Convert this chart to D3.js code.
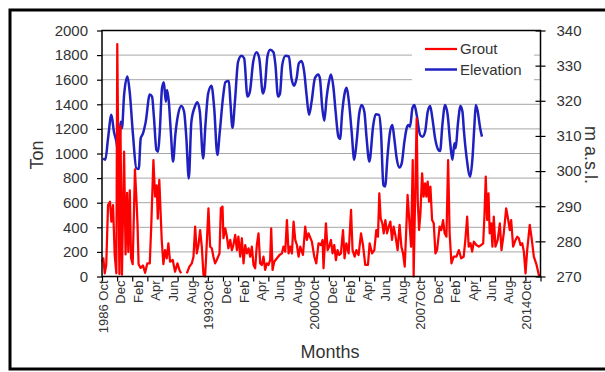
<!DOCTYPE html>
<html>
<head>
<meta charset="utf-8">
<script src="https://cdn.jsdelivr.net/npm/d3@7/dist/d3.min.js"></script>
<style>
  body { margin: 0; background: #fff; }
  text { font-family: "Liberation Sans", Arial, sans-serif; fill: #333; }
</style>
</head>
<body>
<svg id="chart" width="605" height="372"></svg>
<script>
// time in years since Oct 1986 (one axis tick per year)
const groutT = [0.00,0.09,0.18,0.28,0.40,0.53,0.62,0.73,0.84,0.95,1.01,1.15,1.22,1.32,1.46,1.56,1.66,1.74,1.84,1.92,
  2.03,2.18,2.30,2.35,2.42,2.55,2.71,2.85,3.00,3.16,3.26,3.40,3.51,3.62,3.69,3.79,3.95,4.06,4.17,4.28,
  4.39,4.50,4.68,4.83,4.99,5.12,5.23,5.43,5.61,5.78,5.94,6.05,6.16,6.27,6.38,6.49,6.60,6.71,6.82,6.93,
  7.04,7.15,7.26,7.37,7.48,7.59,7.77,7.86,7.97,8.03,8.15,8.26,8.36,8.48,8.59,8.69,8.81,8.92,9.02,9.14,
  9.25,9.36,9.47,9.58,9.69,9.80,9.91,10.02,10.13,10.24,10.35,10.46,10.57,10.68,10.79,10.90,11.01,11.12,11.19,11.28,
  11.39,11.57,11.74,11.90,12.00,12.12,12.23,12.34,12.45,12.56,12.67,12.78,12.89,13.00,13.11,13.29,13.44,13.55,13.66,13.88,
  14.04,14.17,14.32,14.48,14.59,14.65,14.81,14.92,15.03,15.14,15.25,15.36,15.47,15.58,15.69,15.80,15.94,16.04,16.16,16.31,
  16.47,16.57,16.71,16.82,16.97,17.13,17.26,17.41,17.59,17.70,17.86,18.01,18.14,18.25,18.34,18.43,18.54,18.63,18.74,18.85,
  18.96,19.07,19.18,19.29,19.40,19.55,19.68,19.80,19.91,20.02,20.13,20.21,20.35,20.44,20.55,20.61,20.71,20.81,20.88,20.97,
  21.06,21.17,21.27,21.37,21.45,21.54,21.63,21.72,21.83,21.94,22.05,22.16,22.33,22.44,22.56,22.66,22.78,22.89,22.99,23.11,
  23.26,23.44,23.60,23.75,23.92,24.03,24.15,24.25,24.37,24.48,24.59,24.76,24.92,25.08,25.21,25.29,25.38,25.47,25.56,25.64,
  25.74,25.82,25.91,26.02,26.17,26.31,26.42,26.57,26.73,26.83,26.97,27.06,27.19,27.35,27.46,27.56,27.68,27.79,27.90,28.01,
  28.12,28.29,28.40,28.56,28.74,28.89,28.96];
const groutTon = [120,148,26,94,581,608,446,581,175,26,1890,20,1220,15,1015,180,680,200,700,150,
  100,870,570,420,100,70,90,30,107,107,420,947,650,740,470,785,297,100,215,148,
  270,120,134,39,107,53,26,null,26,80,107,161,405,188,256,378,243,12,0,270,
  554,243,229,161,107,134,188,554,568,311,392,324,229,297,215,256,338,215,324,161,
  311,107,256,188,229,161,243,94,67,256,351,107,94,161,53,107,94,134,392,53,
  120,148,175,188,243,202,459,188,243,188,446,297,256,161,243,175,405,297,351,283,
  161,107,270,256,297,67,432,215,243,297,188,256,134,215,175,188,378,148,270,188,
  541,215,161,215,175,351,256,94,94,270,188,215,378,324,676,473,432,351,459,351,
  405,446,297,405,338,215,419,243,188,80,405,663,405,243,947,0,649,1286,622,378,
  514,839,649,758,649,771,608,730,459,432,188,215,405,378,459,351,324,947,351,107,
  161,161,215,148,161,297,486,243,270,202,283,256,243,256,270,486,811,459,676,351,
  432,243,486,243,297,432,215,351,554,486,378,459,243,297,324,311,256,270,202,26,
  215,419,324,161,94,12,0];

const elevT = [0.07,0.22,0.40,0.62,0.79,0.95,1.11,1.24,1.32,1.46,1.68,1.83,2.05,2.27,2.43,2.56,2.71,2.89,3.16,3.31,
  3.44,3.60,3.71,3.82,3.97,4.09,4.22,4.30,4.42,4.55,4.70,4.85,5.03,5.25,5.43,5.58,5.74,5.91,6.14,6.31,
  6.47,6.69,6.84,7.02,7.24,7.42,7.63,7.79,8.01,8.16,8.39,8.49,8.63,8.79,9.00,9.22,9.40,9.62,9.78,10.00,
  10.22,10.40,10.64,10.77,10.94,11.12,11.34,11.47,11.64,11.77,11.92,12.14,12.36,12.53,12.71,12.87,13.02,13.20,13.37,13.53,
  13.69,13.86,14.08,14.30,14.41,14.57,14.70,14.85,15.01,15.14,15.30,15.45,15.63,15.74,15.89,16.07,16.18,16.33,16.51,16.68,
  16.84,17.00,17.17,17.35,17.50,17.68,17.94,18.10,18.32,18.45,18.61,18.72,18.89,19.05,19.20,19.33,19.49,19.67,19.82,20.00,
  20.15,20.26,20.37,20.53,20.66,20.81,21.04,21.19,21.37,21.54,21.70,21.85,22.03,22.25,22.36,22.51,22.69,22.86,23.02,23.17,
  23.31,23.39,23.53,23.71,23.84,23.94,24.12,24.35,24.50,24.63,24.72,24.85,25.01,25.13];
const elevM = [303.6,303.2,309.3,316.0,311.2,308.4,304.1,314.0,312.2,321.6,326.9,322.6,310.3,300.8,300.6,309.3,310.7,314.0,321.8,321.2,
  315.0,306.0,305.5,311.2,323.6,325.3,319.7,323.1,319.7,311.2,302.7,310.3,316.0,318.5,316.9,309.3,297.9,314.0,318.3,319.6,
  316.9,303.6,313.1,322.1,324.3,317.9,304.6,311.2,321.2,325.3,325.6,319.7,312.3,319.7,331.1,332.8,332.1,321.2,322.6,331.1,
  333.8,332.1,322.1,324.0,332.6,334.5,333.8,330.2,321.2,322.0,330.2,332.8,332.6,326.4,324.3,326.4,330.7,331.3,328.3,321.6,
  316.0,319.7,326.4,327.5,326.4,317.9,314.3,320.7,325.4,327.5,324.0,316.9,309.8,309.1,316.9,322.6,323.7,319.7,311.2,303.2,
  308.4,316.0,318.8,316.9,309.3,302.7,313.1,316.2,316.0,311.2,296.0,295.6,304.6,311.2,313.1,309.3,303.6,301.0,302.2,308.4,
  312.2,313.1,312.6,317.9,318.8,316.0,310.3,309.8,311.2,316.9,318.5,315.0,309.3,306.0,305.7,313.1,318.8,316.0,308.4,303.2,
  307.9,306.5,313.1,318.5,316.9,311.2,303.6,298.4,303.6,313.1,318.8,316.9,312.2,309.8];

const tonTicks = d3.range(0, 2001, 200);
const elevTicks = d3.range(270, 341, 10);
const monthLabels = ["1986 Oct","Dec","Feb","Apr","Jun","Aug",
  "1993Oct","Dec","Feb","Apr","Jun","Aug",
  "2000Oct","Dec","Feb","Apr","Jun","Aug",
  "2007Oct","Dec","Feb","Apr","Jun","Aug","2014Oct"];
const years = 29;

const svg = d3.select("#chart");
const plotL = 102, plotR = 540.5, plotT = 30.5, plotB = 276.5;

const x = d3.scaleLinear().domain([0, years]).range([plotL, plotR]);
const yTon = d3.scaleLinear().domain([0, 2000]).range([plotB, plotT]);
const yElev = d3.scaleLinear().domain([270, 340]).range([plotB, plotT]);

// outer frame
svg.append("rect").attr("x", 10).attr("y", 10).attr("width", 620).attr("height", 359)
  .attr("fill", "none").attr("stroke", "#000").attr("stroke-width", 3);

// gridlines
svg.append("g").selectAll("line").data(tonTicks.slice(1, -1)).join("line")
  .attr("x1", plotL).attr("x2", plotR)
  .attr("y1", d => yTon(d)).attr("y2", d => yTon(d))
  .attr("stroke", "#a6a6a6").attr("stroke-width", 1);

// lines
const grout = groutT.map((t, i) => [t, groutTon[i]]);
const elev = elevT.map((t, i) => [t, elevM[i]]);

svg.append("path").datum(elev)
  .attr("fill", "none").attr("stroke", "#2020c0").attr("stroke-width", 2.5)
  .attr("stroke-linejoin", "round")
  .attr("d", d3.line().x(d => x(d[0])).y(d => yElev(d[1])).curve(d3.curveMonotoneX));

svg.append("path").datum(grout)
  .attr("fill", "none").attr("stroke", "#ff0000").attr("stroke-width", 2.25)
  .attr("stroke-linejoin", "round")
  .attr("d", d3.line().defined(d => d[1] != null).x(d => x(d[0])).y(d => yTon(d[1])));

// plot border
svg.append("rect").attr("x", plotL).attr("y", plotT).attr("width", plotR - plotL).attr("height", plotB - plotT)
  .attr("fill", "none").attr("stroke", "#000").attr("stroke-width", 1.5);

// left axis
const ga = svg.append("g").attr("transform", `translate(${plotL},0)`)
  .call(d3.axisLeft(yTon).tickValues(tonTicks).tickFormat(d3.format("d")).tickSize(5).tickPadding(9));
ga.select(".domain").remove();
ga.selectAll(".tick line").attr("stroke", "#000").attr("stroke-width", 1.2);
ga.selectAll("text").style("font-size", "15px").attr("fill", "#222").style("font-family", null);

// right axis (cross ticks)
const gr = svg.append("g").attr("transform", `translate(${plotR},0)`)
  .call(d3.axisRight(yElev).tickValues(elevTicks).tickSize(5).tickPadding(11));
gr.select(".domain").remove();
gr.selectAll(".tick line").attr("x1", -5).attr("stroke", "#000").attr("stroke-width", 1.2);
gr.selectAll("text").style("font-size", "15px").attr("fill", "#222").style("font-family", null);

// bottom axis: a tick per year, labels spread evenly
const gx = svg.append("g").attr("transform", `translate(0,${plotB})`)
  .call(d3.axisBottom(x).tickValues(d3.range(0, years + 1)).tickSize(5).tickFormat(""));
gx.select(".domain").remove();
gx.selectAll(".tick line").attr("stroke", "#000").attr("stroke-width", 1.2);

svg.append("g").selectAll("text").data(monthLabels).join("text")
  .attr("transform", (d, i) => `translate(${x(i * 7 / 6) + 1},${plotB + 4}) rotate(-90)`)
  .attr("text-anchor", "end").attr("dy", "0.35em")
  .style("font-size", "13px").attr("fill", "#222")
  .text(d => d);

// axis titles
svg.append("text").attr("transform", "translate(43,155) rotate(-90)")
  .attr("text-anchor", "middle").style("font-size", "18px").attr("fill", "#111").text("Ton");
svg.append("text").attr("transform", "translate(585,155) rotate(90)")
  .attr("text-anchor", "middle").style("font-size", "18px").attr("fill", "#111").text("m a.s.l.");
svg.append("text").attr("x", 330).attr("y", 358)
  .attr("text-anchor", "middle").style("font-size", "18px").attr("fill", "#111").text("Months");

// legend
const legend = svg.append("g");
legend.append("rect").attr("x", 412).attr("y", 36).attr("width", 122).attr("height", 52).attr("fill", "#fff");
const items = [["Grout", "#ff0000", 2.25], ["Elevation", "#2020c0", 2.5]];
items.forEach(([name, color, w], i) => {
  const cy = 49 + i * 20.5;
  legend.append("line").attr("x1", 425).attr("x2", 457).attr("y1", cy).attr("y2", cy)
    .attr("stroke", color).attr("stroke-width", w);
  legend.append("text").attr("x", 460).attr("y", cy).attr("dy", "0.36em")
    .style("font-size", "15px").attr("fill", "#222").text(name);
});
</script>
</body>
</html>
